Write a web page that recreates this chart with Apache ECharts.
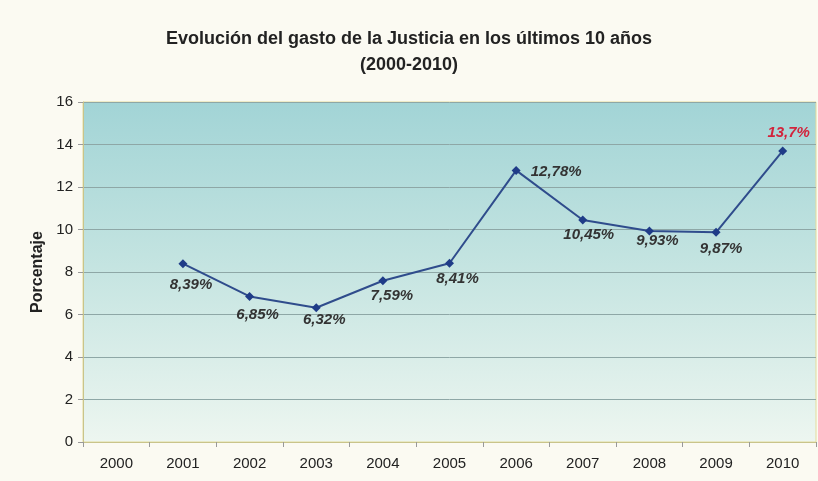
<!DOCTYPE html>
<html>
<head>
<meta charset="utf-8">
<script src="https://cdn.jsdelivr.net/npm/echarts@6/dist/echarts.min.js"></script>
<style>
html,body{margin:0;padding:0;background:#fbfaf2;}
#c{width:818px;height:481px;}
</style>
</head>
<body>
<div id="c"></div>
<script>
var titleText = 'Evolución del gasto de la Justicia en los últimos 10 años\n(2000-2010)';
var yAxisName = 'Porcentaje';
var years = ['2000','2001','2002','2003','2004','2005','2006','2007','2008','2009','2010'];
var values = [null, 8.39, 6.85, 6.32, 7.59, 8.41, 12.78, 10.45, 9.93, 9.87, 13.7];
var valueLabels = ['', '8,39%', '6,85%', '6,32%', '7,59%', '8,41%', '12,78%', '10,45%', '9,93%', '9,87%', '13,7%'];
var yTicks = [0, 2, 4, 6, 8, 10, 12, 14, 16];

// label placement (styling, not data)
var labelOffsets = [[0,0],[8,21],[8,18],[8,12],[9,15],[8,16],[40,1],[6,15],[8,10],[5,17],[6,-18]];
var labelColors = ['#333','#333','#333','#333','#333','#333','#333','#333','#333','#333','#d2243c'];

var seriesData = values.map(function (v, i) {
  if (v === null) return null;
  return {
    value: v,
    label: {
      show: true,
      position: 'inside',
      offset: labelOffsets[i],
      formatter: valueLabels[i],
      color: labelColors[i]
    }
  };
});

var chart = echarts.init(document.getElementById('c'), null, {renderer: 'canvas'});
chart.setOption({
  backgroundColor: '#fbfaf2',
  animation: false,
  title: {
    text: titleText,
    left: 'center',
    top: 21,
    textStyle: {
      fontFamily: 'Liberation Sans, Arial, sans-serif',
      fontSize: 18,
      fontWeight: 'bold',
      color: '#222',
      lineHeight: 26
    }
  },
  grid: {
    left: 83,
    right: 2,
    top: 102,
    bottom: 39,
    show: true,
    borderColor: '#e3dc9c',
    borderWidth: 1,
    backgroundColor: new echarts.graphic.LinearGradient(0, 0, 0, 1, [
      {offset: 0, color: '#a2d4d6'},
      {offset: 0.45, color: '#c2e3e0'},
      {offset: 1, color: '#edf6f0'}
    ])
  },
  xAxis: {
    type: 'category',
    data: years,
    boundaryGap: true,
    axisLine: {lineStyle: {color: '#c9c48a', width: 1}},
    axisTick: {show: true, length: 5, lineStyle: {color: '#999'}},
    axisLabel: {
      fontFamily: 'Liberation Sans, Arial, sans-serif',
      fontSize: 15,
      color: '#222',
      margin: 14
    },
    splitLine: {show: false}
  },
  yAxis: {
    type: 'value',
    min: yTicks[0],
    max: yTicks[yTicks.length - 1],
    interval: yTicks[1] - yTicks[0],
    name: yAxisName,
    nameLocation: 'middle',
    nameGap: 35,
    nameTextStyle: {
      fontFamily: 'Liberation Sans, Arial, sans-serif',
      fontSize: 16,
      fontWeight: 'bold',
      color: '#222'
    },
    axisLine: {show: true, lineStyle: {color: '#c9c48a', width: 1}},
    axisTick: {show: true, length: 5, lineStyle: {color: '#999'}},
    axisLabel: {
      fontFamily: 'Liberation Sans, Arial, sans-serif',
      fontSize: 15,
      color: '#222',
      margin: 10
    },
    splitLine: {show: true, lineStyle: {color: '#8ea7a6', width: 1}}
  },
  series: [{
    type: 'line',
    data: seriesData,
    connectNulls: false,
    symbol: 'diamond',
    symbolSize: 9,
    lineStyle: {color: '#2f4c8c', width: 2},
    itemStyle: {color: '#1f3c88'},
    label: {
      show: true,
      fontFamily: 'Liberation Sans, Arial, sans-serif',
      fontSize: 15,
      fontWeight: 'bold',
      fontStyle: 'italic'
    }
  }]
});
</script>
</body>
</html>
